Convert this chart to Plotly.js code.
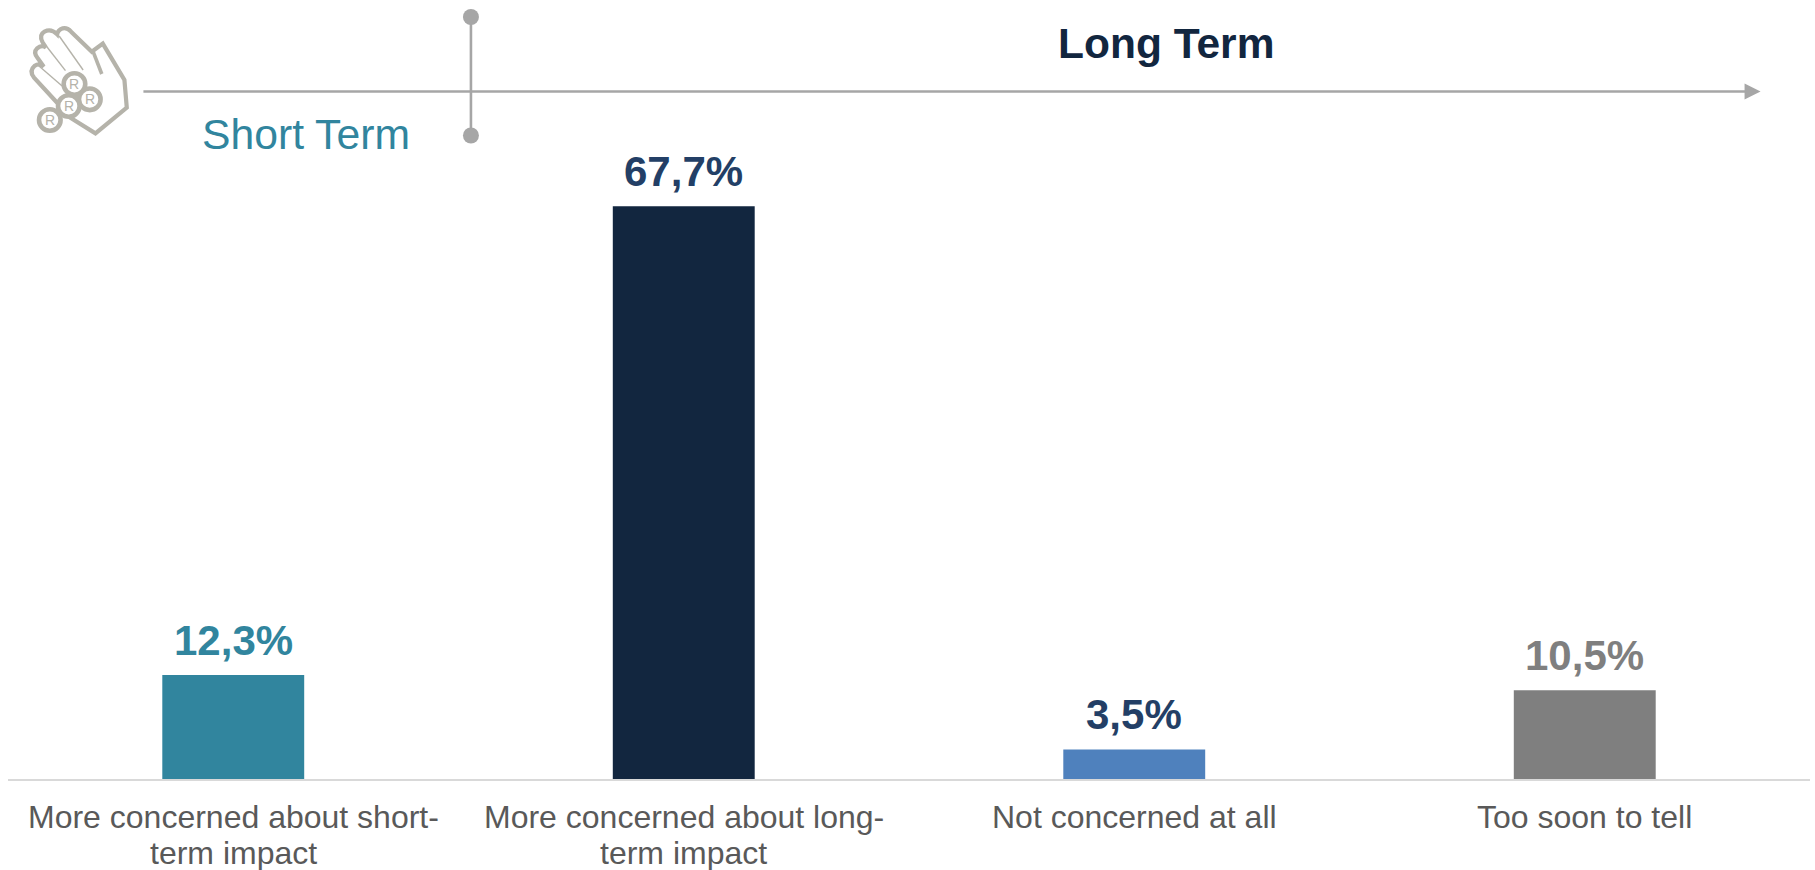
<!DOCTYPE html>
<html>
<head>
<meta charset="utf-8">
<script src="https://cdn.plot.ly/plotly-3.0.1.min.js"></script>
<style>html,body{margin:0;padding:0;background:#fff;overflow:hidden}</style>
</head>
<body>
<div id="chart" style="width:1815px;height:870px"></div>
<script>
// Survey answers and their shares, in percent
const categories = [
  "More concerned about short-term impact",
  "More concerned about long-term impact",
  "Not concerned at all",
  "Too soon to tell"
];
const categoryLines = [
  ["More concerned about short-", "term impact"],
  ["More concerned about long-", "term impact"],
  ["Not concerned at all"],
  ["Too soon to tell"]
];
const shares = [12.3, 67.7, 3.5, 10.5];
const barColors = ["#31859E", "#12263F", "#4F81BD", "#7F7F7F"];
const labelColors = ["#31859E", "#233F66", "#233F66", "#7F7F7F"];

const W = 1815, H = 870;
const M = {l: 7.5, r: 4.5, t: 0, b: 91};
const FONT = '"Liberation Sans", Arial, sans-serif';
const GREY = "#A6A6A6", ICON = "#B5B3AA";

// Header furniture is placed in page pixels, converted to paper fractions
const px = x => (x - M.l) / (W - M.l - M.r);
const py = y => 1 - (y - M.t) / (H - M.t - M.b);
const P = (x, y) => `${px(x).toFixed(5)},${py(y).toFixed(5)}`;
const base = {xref: "paper", yref: "paper"};

const line = (x0, y0, x1, y1, width) => ({...base, type: "line",
  x0: px(x0), y0: py(y0), x1: px(x1), y1: py(y1), line: {color: GREY, width}});
const dot = (cx, cy, r, fill, stroke, width) => ({...base, type: "circle",
  x0: px(cx - r), x1: px(cx + r), y0: py(cy + r), y1: py(cy - r),
  fillcolor: fill, line: {color: stroke, width}});

// Hand outline, traced in units of a third of a pixel
const h = (x, y) => P(x / 3, y / 3);
const handPath = "M" + h(190, 330) + " L" + h(100, 232) +
  " Q" + h(85, 212) + " " + h(103, 197) + " Q" + h(116, 188) + " " + h(130, 200) +
  " L" + h(112, 175) + " Q" + h(97, 158) + " " + h(110, 145) + " Q" + h(122, 134) + " " + h(136, 142) +
  " L" + h(126, 126) + " Q" + h(115, 105) + " " + h(132, 95) + " Q" + h(152, 85) + " " + h(170, 103) +
  " Q" + h(172, 90) + " " + h(187, 85) + " Q" + h(200, 82) + " " + h(212, 95) +
  " L" + h(274, 155) + " L" + h(307, 131) + " L" + h(372, 240) + " L" + h(379, 323) +
  " L" + h(285, 400) + " L" + h(205, 350);
const fingerLine = (a, b, c, d, width) => ({...base, type: "line",
  x0: px(a / 3), y0: py(b / 3), x1: px(c / 3), y1: py(d / 3),
  line: {color: ICON, width}});

const coins = [[222, 252], [268, 298], [205, 318], [148, 360]];

const shapes = [
  line(143, 91.5, 1746, 91.5, 2.6),
  {...base, type: "path", fillcolor: GREY, line: {width: 0},
   path: "M" + P(1745, 83.5) + " L" + P(1761, 91.5) + " L" + P(1745, 99.5) + " Z"},
  line(470.7, 17, 470.7, 135.5, 2.6),
  dot(470.7, 17, 8, GREY, GREY, 0),
  dot(470.7, 135.5, 8, GREY, GREY, 0),
  {...base, type: "path", path: handPath, fillcolor: "rgba(0,0,0,0)",
   line: {color: ICON, width: 4.2}},
  fingerLine(135, 135, 195, 212, 1.4),
  fingerLine(176, 108, 248, 210, 1.4),
  fingerLine(112, 195, 185, 258, 1.4),
  fingerLine(278, 155, 304, 222, 3.6),
  ...coins.map(c => dot(c[0] / 3, c[1] / 3, 10.8, "#FFFFFF", ICON, 4.6))
];

// Category captions: first line's text centre sits at 817px, lines 36px apart
const captionAnnotations = categoryLines.flatMap((lines, i) => lines.map((text, j) => ({
  xref: "x", yref: "paper", x: categories[i], y: py(817 + j * 36), text, showarrow: false,
  font: {family: FONT, size: 32, color: "#595959"}, xanchor: "center", yanchor: "middle"
})));

// Value labels sit a fixed distance above their bars
const valueAnnotations = shares.map((v, i) => ({
  xref: "x", yref: "y", x: categories[i], y: v, yanchor: "bottom", xanchor: "center", yshift: 9,
  text: "<b>" + v.toFixed(1).replace(".", ",") + "%</b>", showarrow: false,
  font: {family: FONT, size: 42, color: labelColors[i]}
}));

const annotations = [
  {...base, x: px(306), y: py(134), text: "Short Term", showarrow: false,
   font: {family: FONT, size: 42.7, color: "#31859E"}, xanchor: "center", yanchor: "middle"},
  {...base, x: px(1166), y: py(44), text: "<b>Long Term</b>", showarrow: false,
   font: {family: FONT, size: 42.5, color: "#12263F"}, xanchor: "center", yanchor: "middle"},
  ...coins.map(c => ({...base, x: px(c[0] / 3), y: py(c[1] / 3), text: "R", showarrow: false,
    font: {family: FONT, size: 14, color: ICON}, xanchor: "center", yanchor: "middle"})),
  ...valueAnnotations,
  ...captionAnnotations
];

Plotly.newPlot("chart", [{
  type: "bar",
  x: categories,
  y: shares,
  marker: {color: barColors, line: {width: 0}},
  cliponaxis: false,
  hoverinfo: "x+y"
}], {
  width: W, height: H,
  margin: M,
  bargap: 0.685,
  paper_bgcolor: "#FFFFFF",
  plot_bgcolor: "#FFFFFF",
  showlegend: false,
  xaxis: {
    type: "category",
    showgrid: false, zeroline: false,
    showline: true, linecolor: "#D9D9D9", linewidth: 2,
    ticks: "", showticklabels: false
  },
  yaxis: {range: [0, 92.08], visible: false, fixedrange: true},
  shapes, annotations
}, {displayModeBar: false, staticPlot: true});
</script>
</body>
</html>
